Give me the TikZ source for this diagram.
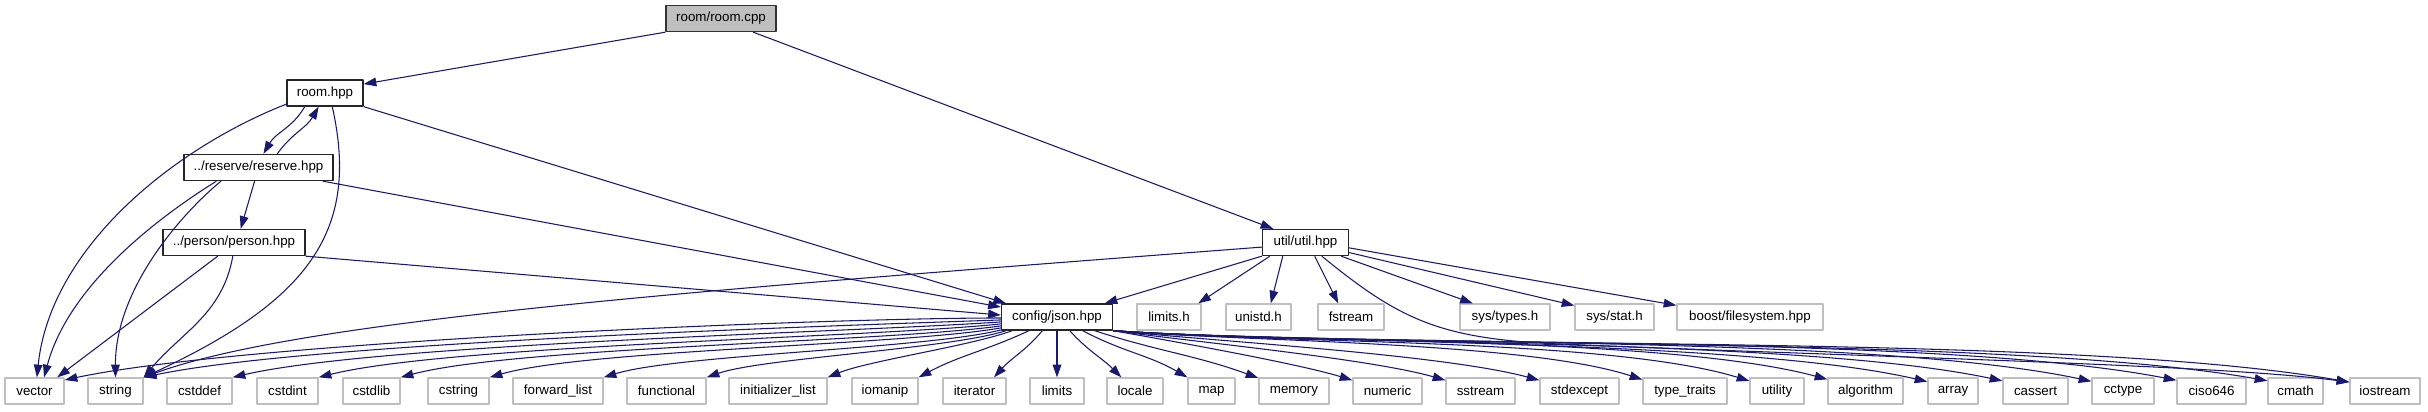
\documentclass[tikz,border=0pt]{standalone}
\usepackage{fontspec}
\setmainfont{Liberation Sans}
\usetikzlibrary{arrows.meta}
\definecolor{edgeblue}{RGB}{25,25,112}
\definecolor{boxgray}{RGB}{191,191,191}

\begin{document}
\begin{tikzpicture}[x=0.75pt,y=-0.75pt,font=\fontsize{10}{12}\selectfont,line join=round,
	filebox/.style={rectangle,line width=1pt,minimum height=19.5pt,inner xsep=1pt,inner ysep=0pt},
	rootfile/.style={filebox,draw=black!80,fill=boxgray},
	localfile/.style={filebox,draw=black!85,fill=white},
	sysfile/.style={filebox,draw=boxgray,fill=white},
	dep/.style={draw=edgeblue,line width=0.8pt,-{Triangle[length=9.5pt,width=6.5pt]}}]
	\useasboundingbox (0,0) rectangle (2428,411);
	\node[rootfile,minimum width=82.5pt] (roomcpp) at (721,18.5) {room/room.cpp};
	\node[localfile,minimum width=57pt] (roomhpp) at (325,93) {room.hpp};
	\node[localfile,minimum width=111.75pt] (reserve) at (258.5,167.5) {../reserve/reserve.hpp};
	\node[localfile,minimum width=106.5pt] (person) at (234,242.5) {../person/person.hpp};
	\node[localfile,minimum width=64.5pt] (util) at (1305.5,242.5) {util/util.hpp};
	\node[localfile,minimum width=83.25pt] (json) at (1057,317) {config/json.hpp};
	\node[sysfile,minimum width=48pt] (limitsh) at (1169,317) {limits.h};
	\node[sysfile,minimum width=48.75pt] (unistd) at (1258.5,317) {unistd.h};
	\node[sysfile,minimum width=49.5pt] (fstream) at (1351,317) {fstream};
	\node[sysfile,minimum width=67.5pt] (systypes) at (1505,317) {sys/types.h};
	\node[sysfile,minimum width=59.25pt] (sysstat) at (1614.5,317) {sys/stat.h};
	\node[sysfile,minimum width=109.5pt] (boost) at (1750,317) {boost/filesystem.hpp};
	\node[sysfile,minimum width=44.25pt] (vector) at (34.5,391) {vector};
	\node[sysfile,minimum width=41.25pt] (string) at (115.5,391) {string};
	\node[sysfile,minimum width=48.75pt] (cstddef) at (199.5,391) {cstddef};
	\node[sysfile,minimum width=45.75pt] (cstdint) at (287.5,391) {cstdint};
	\node[sysfile,minimum width=42.75pt] (cstdlib) at (371.5,391) {cstdlib};
	\node[sysfile,minimum width=45.75pt] (cstring) at (458.5,391) {cstring};
	\node[sysfile,minimum width=67.5pt] (fwdlist) at (558,391) {forward\_list};
	\node[sysfile,minimum width=59.25pt] (functional) at (666.5,391) {functional};
	\node[sysfile,minimum width=73.5pt] (initlist) at (778,391) {initializer\_list};
	\node[sysfile,minimum width=49.5pt] (iomanip) at (885,391) {iomanip};
	\node[sysfile,minimum width=47.25pt] (iterator) at (974.5,391) {iterator};
	\node[sysfile,minimum width=40.5pt] (limits) at (1057,391) {limits};
	\node[sysfile,minimum width=42pt] (locale) at (1135,391) {locale};
	\node[sysfile,minimum width=35.25pt] (map) at (1211.5,391) {map};
	\node[sysfile,minimum width=52.5pt] (memory) at (1294,391) {memory};
	\node[sysfile,minimum width=51.75pt] (numeric) at (1387.5,391) {numeric};
	\node[sysfile,minimum width=51.75pt] (sstream) at (1480.5,391) {sstream};
	\node[sysfile,minimum width=59.25pt] (stdexcept) at (1579.5,391) {stdexcept};
	\node[sysfile,minimum width=63pt] (typetraits) at (1685,391) {type\_traits};
	\node[sysfile,minimum width=40.5pt] (utility) at (1777,391) {utility};
	\node[sysfile,minimum width=56.25pt] (algorithm) at (1865.5,391) {algorithm};
	\node[sysfile,minimum width=37.5pt] (array) at (1953,391) {array};
	\node[sysfile,minimum width=48.75pt] (cassert) at (2035.5,391) {cassert};
	\node[sysfile,minimum width=46.5pt] (cctype) at (2123,391) {cctype};
	\node[sysfile,minimum width=51.75pt] (ciso) at (2211.5,391) {ciso646};
	\node[sysfile,minimum width=41.25pt] (cmath) at (2295.5,391) {cmath};
	\node[sysfile,minimum width=52.5pt] (iostream) at (2385,391) {iostream};
	\draw[dep] (roomcpp.south west) -- (roomhpp.13);
	\draw[dep] (roomcpp.337) -- (util.157);
	\draw[dep] (roomhpp.214) to[out=240,in=60] (reserve.70);
	\draw[dep] (reserve.36) to[out=55,in=240] (roomhpp.245);
	\draw[dep] (roomhpp.196) .. controls (170,150) and (50,250) .. (vector.80);
	\draw[dep] (roomhpp.298) .. controls (360,230) and (310,300) .. (string.north east);
	\draw[dep] (roomhpp.south east) -- (json.165);
	\draw[dep] (reserve.198) .. controls (170,210) and (70,280) .. (vector.55);
	\draw[dep] (reserve.200) .. controls (180,215) and (115,290) .. (string.north);
	\draw[dep] (reserve.254) -- (person.64);
	\draw[dep] (reserve.348) -- (json.170);
	\draw[dep] (person.220) -- (vector.31);
	\draw[dep] (person.265) to[out=260,in=50] (string.north east);
	\draw[dep] (person.south east) -- (json.178);
	\draw[dep] (util.186) .. controls (700,290) and (300,320) .. (string.north east);
	\draw[dep] (util.south west) -- (json.16);
	\draw[dep] (util.201) -- (limitsh.25);
	\draw[dep] (util.211) -- (unistd.48);
	\draw[dep] (util.304) -- (fstream.133);
	\draw[dep] (util.339) -- (systypes.157);
	\draw[dep] (util.347) -- (sysstat.164);
	\draw[dep] (util.353) -- (boost.171);
	\draw[dep] (util.320) .. controls (1400,320) and (1440,339) .. (1560,344) .. controls (1900,358) and (2220,365) .. (iostream.166);
	\draw[dep] (json.181) to[out=180,in=12,looseness=0.5] (vector.20);
	\draw[dep] (json.183) to[out=182,in=12,looseness=0.5] (string.north east);
	\draw[dep] (json.185) to[out=184,in=13,looseness=0.5] (cstddef.north east);
	\draw[dep] (json.187) to[out=186,in=14,looseness=0.5] (cstdint.north east);
	\draw[dep] (json.189) to[out=188,in=15,looseness=0.5] (cstdlib.north east);
	\draw[dep] (json.191) to[out=190,in=16,looseness=0.5] (cstring.north east);
	\draw[dep] (json.193) to[out=194,in=17,looseness=0.5] (fwdlist.north east);
	\draw[dep] (json.195) to[out=198,in=19,looseness=0.5] (functional.north east);
	\draw[dep] (json.197) to[out=200,in=22,looseness=0.6] (initlist.north east);
	\draw[dep] (json.206) to[out=205,in=28] (iomanip.north east);
	\draw[dep] (json.223) to[out=230,in=48] (iterator.35);
	\draw[dep] (json.south) -- (limits.north);
	\draw[dep] (json.313) to[out=312,in=135] (locale.135);
	\draw[dep] (json.332) to[out=332,in=150] (map.north west);
	\draw[dep] (json.340) to[out=342,in=160] (memory.160);
	\draw[dep] (json.south east) to[out=-10,in=163,looseness=0.6] (numeric.163);
	\draw[dep] (json.south east) to[out=-8,in=164,looseness=0.6] (sstream.163);
	\draw[dep] (json.south east) to[out=-6,in=165,looseness=0.6] (stdexcept.165);
	\draw[dep] (json.south east) to[out=-5,in=162,looseness=0.6] (typetraits.165);
	\draw[dep] (json.south east) to[out=-5,in=163,looseness=0.6] (utility.160);
	\draw[dep] (json.south east) to[out=-4,in=165,looseness=0.6] (algorithm.163);
	\draw[dep] (json.south east) to[out=-4,in=167,looseness=0.6] (array.160);
	\draw[dep] (json.south east) to[out=-4,in=168,looseness=0.6] (cassert.163);
	\draw[dep] (json.south east) to[out=-4,in=168,looseness=0.6] (cctype.163);
	\draw[dep] (json.south east) to[out=-4,in=169,looseness=0.6] (ciso.163);
	\draw[dep] (json.south east) to[out=-4,in=170,looseness=0.6] (cmath.160);
	\draw[dep] (json.south east) to[out=-4,in=170,looseness=0.6] (iostream.166);
\end{tikzpicture}
\end{document}
